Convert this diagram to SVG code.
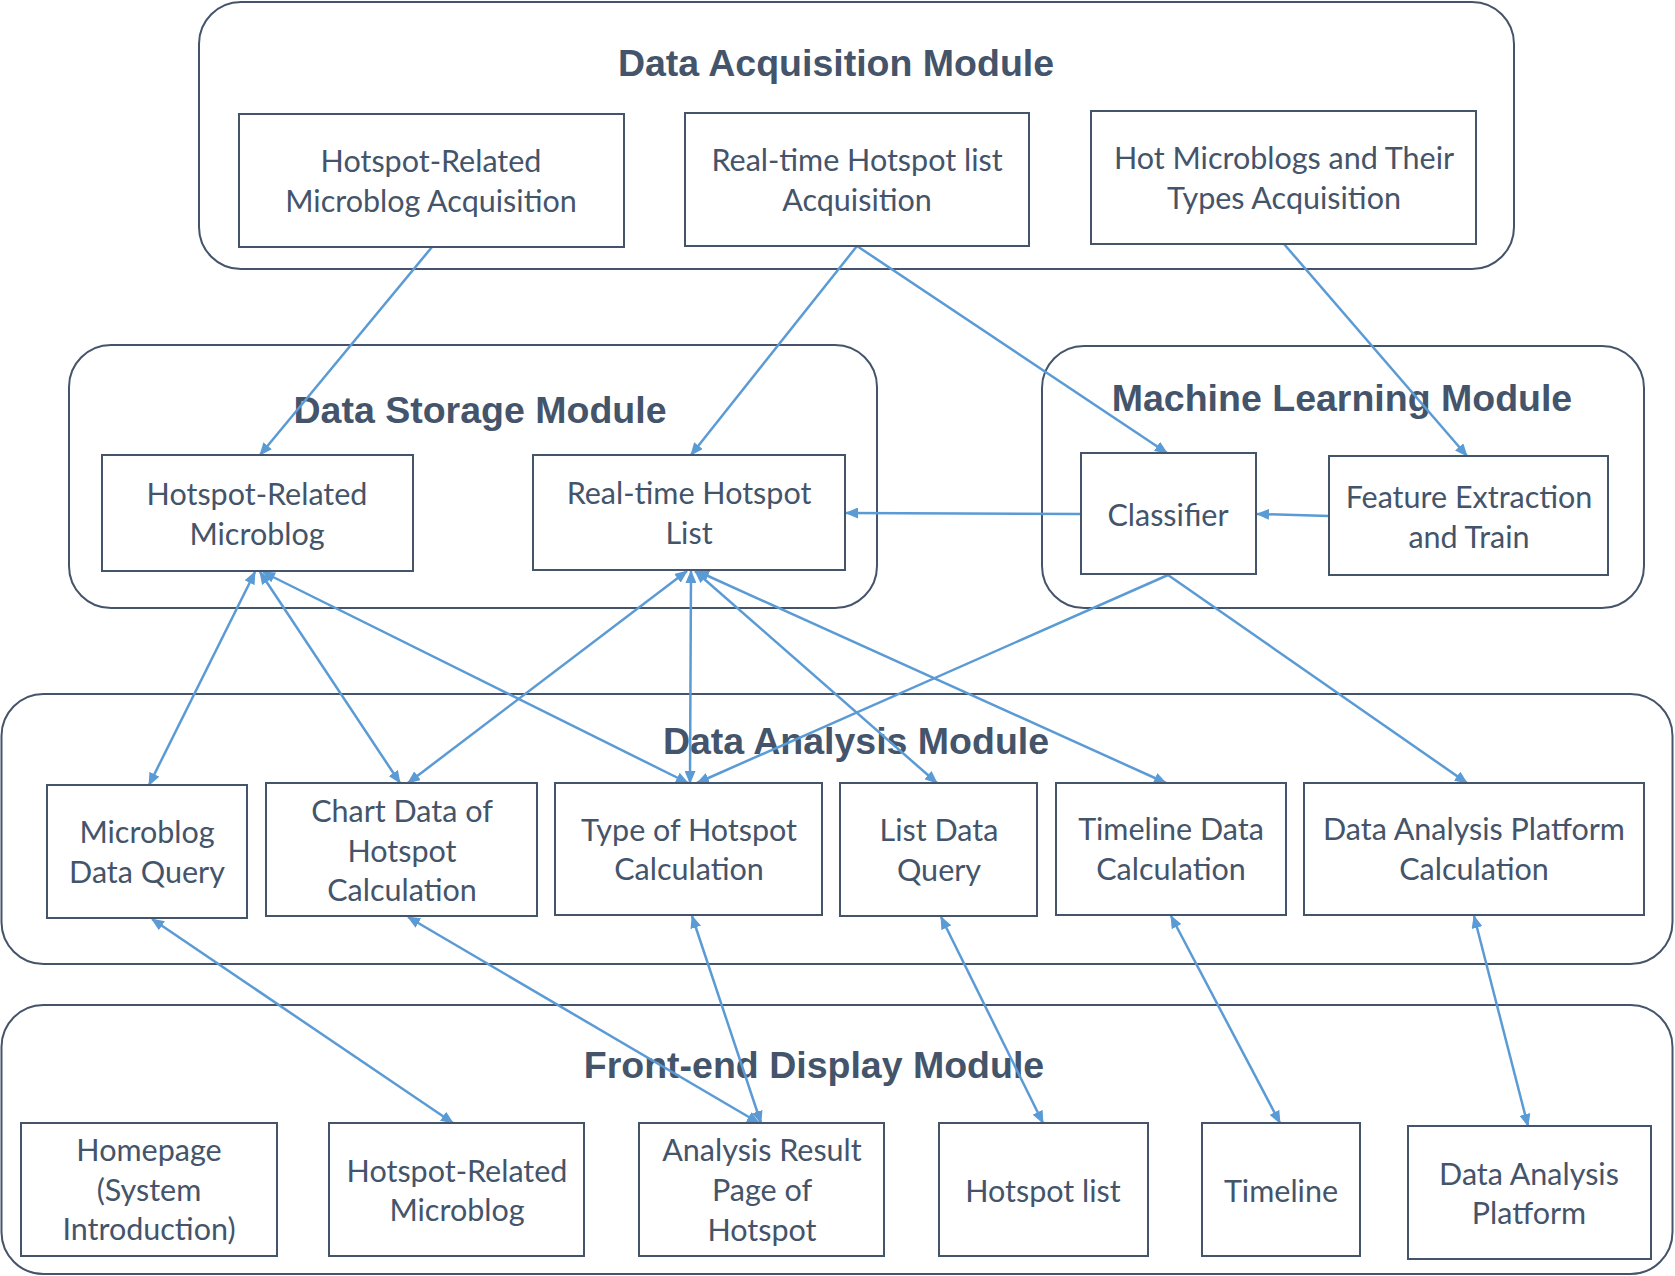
<svg xmlns="http://www.w3.org/2000/svg" width="1675" height="1276" viewBox="0 0 1675 1276">
<style>
.mod{fill:none;stroke:#44546A;stroke-width:2}
.box{fill:#fff;stroke:#44546A;stroke-width:2}
.title{font-family:"Liberation Sans",Arial,sans-serif;font-weight:bold;font-size:37.5px;fill:#44546A;text-anchor:middle}
.t{font-family:Lato,"Open Sans",sans-serif;font-size:30.5px;fill:#44546A;text-anchor:middle}
.c{fill:none;stroke:#5B9BD5;stroke-width:2.5}
.one{marker-end:url(#ah)}
.two{marker-start:url(#ah);marker-end:url(#ah)}
</style>
<defs>
<marker id="ah" markerUnits="userSpaceOnUse" markerWidth="13" markerHeight="11" refX="12" refY="5.5" orient="auto-start-reverse">
<path d="M0,0 L13,5.5 L0,11 z" fill="#5B9BD5"/>
</marker>
</defs>
<rect width="1675" height="1276" fill="#fff"/>

<g id="module-acquisition">
<rect class="mod" x="199" y="2" width="1315" height="267" rx="42"/>
<text class="title" x="836" y="76">Data Acquisition Module</text>
</g>
<g id="module-storage">
<rect class="mod" x="69" y="345" width="808" height="263" rx="42"/>
<text class="title" x="480" y="423">Data Storage Module</text>
</g>
<g id="module-ml">
<rect class="mod" x="1042" y="346" width="602" height="262" rx="42"/>
<text class="title" x="1342" y="411">Machine Learning Module</text>
</g>
<g id="module-analysis">
<rect class="mod" x="1.5" y="694" width="1671" height="270" rx="42"/>
<text class="title" x="856" y="754">Data Analysis Module</text>
</g>
<g id="module-frontend">
<rect class="mod" x="1.5" y="1005" width="1671" height="269" rx="42"/>
<text class="title" x="814" y="1078">Front-end Display Module</text>
</g>

<g id="connectors">
<line class="c one" x1="432" y1="247" x2="260" y2="455"/>
<line class="c one" x1="857" y1="246" x2="691" y2="455"/>
<line class="c one" x1="857" y1="246" x2="1167" y2="453"/>
<line class="c one" x1="1284" y1="244" x2="1467" y2="456"/>
<line class="c one" x1="1081" y1="514" x2="846" y2="513"/>
<line class="c one" x1="1329" y1="516" x2="1257" y2="514"/>
<line class="c two" x1="255" y1="572" x2="149" y2="785"/>
<line class="c two" x1="260" y1="572" x2="400" y2="783"/>
<line class="c two" x1="263" y1="572" x2="688" y2="783"/>
<line class="c two" x1="687" y1="571" x2="408" y2="783"/>
<line class="c two" x1="691" y1="571" x2="690" y2="783"/>
<line class="c two" x1="695" y1="571" x2="937" y2="783"/>
<line class="c two" x1="697" y1="571" x2="1166" y2="783"/>
<line class="c one" x1="1168" y1="575" x2="697" y2="783"/>
<line class="c one" x1="1168" y1="575" x2="1467" y2="783"/>
<line class="c two" x1="152" y1="919" x2="453" y2="1123"/>
<line class="c two" x1="408" y1="917" x2="759" y2="1123"/>
<line class="c two" x1="692" y1="916" x2="761" y2="1123"/>
<line class="c two" x1="941" y1="917" x2="1043" y2="1123"/>
<line class="c two" x1="1171" y1="916" x2="1280" y2="1123"/>
<line class="c two" x1="1474" y1="916" x2="1528" y2="1126"/>
</g>

<g id="n-hr-acq">
<rect class="box" x="239" y="114" width="385" height="133"/>
<text class="t" x="431" y="172">Hotspot-Related</text>
<text class="t" x="431" y="212">Microblog Acquisition</text>
</g>
<g id="n-rt-acq">
<rect class="box" x="685" y="113" width="344" height="133"/>
<text class="t" x="857" y="171">Real-time Hotspot list</text>
<text class="t" x="857" y="211">Acquisition</text>
</g>
<g id="n-hot-acq">
<rect class="box" x="1091" y="111" width="385" height="133"/>
<text class="t" x="1284" y="169">Hot Microblogs and Their</text>
<text class="t" x="1284" y="209">Types Acquisition</text>
</g>

<g id="n-hr-store">
<rect class="box" x="102" y="455" width="311" height="116"/>
<text class="t" x="257" y="505">Hotspot-Related</text>
<text class="t" x="257" y="545">Microblog</text>
</g>
<g id="n-rt-store">
<rect class="box" x="533" y="455" width="312" height="115"/>
<text class="t" x="689" y="504">Real-time Hotspot</text>
<text class="t" x="689" y="544">List</text>
</g>

<g id="n-classifier">
<rect class="box" x="1081" y="453" width="175" height="121"/>
<text class="t" x="1168" y="526">Classifier</text>
</g>
<g id="n-feature">
<rect class="box" x="1329" y="456" width="279" height="119"/>
<text class="t" x="1469" y="508">Feature Extraction</text>
<text class="t" x="1469" y="548">and Train</text>
</g>

<g id="n-mdq">
<rect class="box" x="47" y="785" width="200" height="133"/>
<text class="t" x="147" y="843">Microblog</text>
<text class="t" x="147" y="883">Data Query</text>
</g>
<g id="n-chart">
<rect class="box" x="266" y="783" width="271" height="133"/>
<text class="t" x="402" y="822">Chart Data of</text>
<text class="t" x="402" y="862">Hotspot</text>
<text class="t" x="402" y="901">Calculation</text>
</g>
<g id="n-type">
<rect class="box" x="555" y="783" width="267" height="132"/>
<text class="t" x="689" y="841">Type of Hotspot</text>
<text class="t" x="689" y="880">Calculation</text>
</g>
<g id="n-listq">
<rect class="box" x="840" y="783" width="197" height="133"/>
<text class="t" x="939" y="841">List Data</text>
<text class="t" x="939" y="881">Query</text>
</g>
<g id="n-timeline-calc">
<rect class="box" x="1056" y="783" width="230" height="132"/>
<text class="t" x="1171" y="840">Timeline Data</text>
<text class="t" x="1171" y="880">Calculation</text>
</g>
<g id="n-dap-calc">
<rect class="box" x="1304" y="783" width="340" height="132"/>
<text class="t" x="1474" y="840">Data Analysis Platform</text>
<text class="t" x="1474" y="880">Calculation</text>
</g>

<g id="n-home">
<rect class="box" x="21" y="1123" width="256" height="133"/>
<text class="t" x="149" y="1161">Homepage</text>
<text class="t" x="149" y="1201">(System</text>
<text class="t" x="149" y="1240">Introduction)</text>
</g>
<g id="n-hr-front">
<rect class="box" x="329" y="1123" width="255" height="133"/>
<text class="t" x="457" y="1182">Hotspot-Related</text>
<text class="t" x="457" y="1221">Microblog</text>
</g>
<g id="n-result">
<rect class="box" x="639" y="1123" width="245" height="133"/>
<text class="t" x="762" y="1161">Analysis Result</text>
<text class="t" x="762" y="1201">Page of</text>
<text class="t" x="762" y="1241">Hotspot</text>
</g>
<g id="n-hotlist">
<rect class="box" x="939" y="1123" width="209" height="133"/>
<text class="t" x="1043" y="1202">Hotspot list</text>
</g>
<g id="n-timeline">
<rect class="box" x="1202" y="1123" width="158" height="133"/>
<text class="t" x="1281" y="1202">Timeline</text>
</g>
<g id="n-dap">
<rect class="box" x="1408" y="1126" width="243" height="133"/>
<text class="t" x="1529" y="1185">Data Analysis</text>
<text class="t" x="1529" y="1224">Platform</text>
</g>
</svg>
